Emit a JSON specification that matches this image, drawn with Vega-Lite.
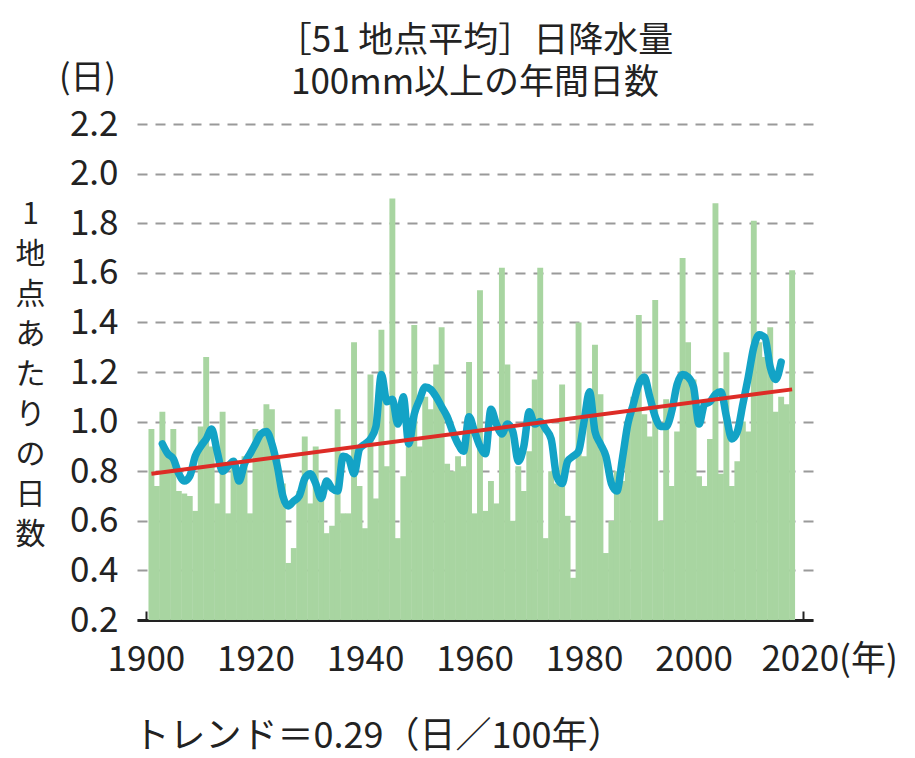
{
  "$schema": "https://vega.github.io/schema/vega-lite/v6.json",
  "width": 676,
  "height": 496,
  "autosize": {"type": "none"},
  "padding": {"left": 137, "top": 124, "right": 102, "bottom": 138},
  "background": "white",
  "config": {"font": "Noto Sans CJK JP", "view": {"stroke": null}},
  "title": {
    "text": ["［51 地点平均］日降水量", "100mm以上の年間日数"],
    "fontSize": 35,
    "fontWeight": "normal",
    "color": "#222222",
    "anchor": "middle",
    "lineHeight": 42,
    "offset": 26,
    "dy": 66
  },
  "datasets": {
    "bars": [
      {"year":1901,"days":0.97},{"year":1902,"days":0.74},{"year":1903,"days":1.04},{"year":1904,"days":0.88},{"year":1905,"days":0.97},
      {"year":1906,"days":0.72},{"year":1907,"days":0.71},{"year":1908,"days":0.70},{"year":1909,"days":0.64},{"year":1910,"days":0.98},
      {"year":1911,"days":1.26},{"year":1912,"days":0.90},{"year":1913,"days":0.67},{"year":1914,"days":1.04},{"year":1915,"days":0.63},
      {"year":1916,"days":0.85},{"year":1917,"days":0.80},{"year":1918,"days":0.86},{"year":1919,"days":0.63},{"year":1920,"days":0.97},
      {"year":1921,"days":0.95},{"year":1922,"days":1.07},{"year":1923,"days":1.05},{"year":1924,"days":0.85},{"year":1925,"days":0.75},
      {"year":1926,"days":0.43},{"year":1927,"days":0.49},{"year":1928,"days":0.72},{"year":1929,"days":0.94},{"year":1930,"days":0.67},
      {"year":1931,"days":0.90},{"year":1932,"days":0.68},{"year":1933,"days":0.55},{"year":1934,"days":0.58},{"year":1935,"days":1.05},
      {"year":1936,"days":0.63},{"year":1937,"days":0.63},{"year":1938,"days":1.32},{"year":1939,"days":0.74},{"year":1940,"days":0.57},
      {"year":1941,"days":1.19},{"year":1942,"days":0.69},{"year":1943,"days":1.37},{"year":1944,"days":0.82},{"year":1945,"days":1.90},
      {"year":1946,"days":0.53},{"year":1947,"days":0.78},{"year":1948,"days":0.90},{"year":1949,"days":1.39},{"year":1950,"days":0.90},
      {"year":1951,"days":1.10},{"year":1952,"days":1.05},{"year":1953,"days":1.23},{"year":1954,"days":1.38},{"year":1955,"days":0.83},
      {"year":1956,"days":0.80},{"year":1957,"days":0.86},{"year":1958,"days":0.82},{"year":1959,"days":1.24},{"year":1960,"days":0.63},
      {"year":1961,"days":1.53},{"year":1962,"days":0.64},{"year":1963,"days":0.76},{"year":1964,"days":0.67},{"year":1965,"days":1.62},
      {"year":1966,"days":1.23},{"year":1967,"days":0.60},{"year":1968,"days":0.82},{"year":1969,"days":0.72},{"year":1970,"days":0.88},
      {"year":1971,"days":1.17},{"year":1972,"days":1.62},{"year":1973,"days":0.53},{"year":1974,"days":0.80},{"year":1975,"days":0.75},
      {"year":1976,"days":1.15},{"year":1977,"days":0.62},{"year":1978,"days":0.37},{"year":1979,"days":1.40},{"year":1980,"days":0.86},
      {"year":1981,"days":1.10},{"year":1982,"days":1.31},{"year":1983,"days":1.11},{"year":1984,"days":0.47},{"year":1985,"days":0.60},
      {"year":1986,"days":0.80},{"year":1987,"days":0.76},{"year":1988,"days":1.00},{"year":1989,"days":1.10},{"year":1990,"days":1.43},
      {"year":1991,"days":1.03},{"year":1992,"days":0.94},{"year":1993,"days":1.49},{"year":1994,"days":0.60},{"year":1995,"days":1.09},
      {"year":1996,"days":0.74},{"year":1997,"days":0.96},{"year":1998,"days":1.66},{"year":1999,"days":1.32},{"year":2000,"days":1.17},
      {"year":2001,"days":0.78},{"year":2002,"days":0.74},{"year":2003,"days":0.93},{"year":2004,"days":1.88},{"year":2005,"days":0.79},
      {"year":2006,"days":1.28},{"year":2007,"days":0.74},{"year":2008,"days":0.84},{"year":2009,"days":1.00},{"year":2010,"days":0.96},
      {"year":2011,"days":1.81},{"year":2012,"days":1.32},{"year":2013,"days":1.26},{"year":2014,"days":1.38},{"year":2015,"days":1.04},
      {"year":2016,"days":1.10},{"year":2017,"days":1.07},{"year":2018,"days":1.61}
    ],
    "ma": [
      {"year":1903,"ma":0.91},{"year":1904,"ma":0.87},{"year":1905,"ma":0.85},{"year":1906,"ma":0.79},{"year":1907,"ma":0.76},
      {"year":1908,"ma":0.78},{"year":1909,"ma":0.86},{"year":1910,"ma":0.90},{"year":1911,"ma":0.93},{"year":1912,"ma":0.97},
      {"year":1913,"ma":0.88},{"year":1914,"ma":0.80},{"year":1915,"ma":0.82},{"year":1916,"ma":0.84},{"year":1917,"ma":0.76},
      {"year":1918,"ma":0.83},{"year":1919,"ma":0.87},{"year":1920,"ma":0.91},{"year":1921,"ma":0.95},{"year":1922,"ma":0.96},
      {"year":1923,"ma":0.91},{"year":1924,"ma":0.82},{"year":1925,"ma":0.70},{"year":1926,"ma":0.66},{"year":1927,"ma":0.68},
      {"year":1928,"ma":0.70},{"year":1929,"ma":0.77},{"year":1930,"ma":0.79},{"year":1931,"ma":0.75},{"year":1932,"ma":0.69},
      {"year":1933,"ma":0.76},{"year":1934,"ma":0.73},{"year":1935,"ma":0.72},{"year":1936,"ma":0.86},{"year":1937,"ma":0.85},
      {"year":1938,"ma":0.79},{"year":1939,"ma":0.89},{"year":1940,"ma":0.91},{"year":1941,"ma":0.93},{"year":1942,"ma":0.98},
      {"year":1943,"ma":1.19},{"year":1944,"ma":1.08},{"year":1945,"ma":1.09},{"year":1946,"ma":0.99},{"year":1947,"ma":1.10},
      {"year":1948,"ma":0.91},{"year":1949,"ma":1.03},{"year":1950,"ma":1.09},{"year":1951,"ma":1.14},{"year":1952,"ma":1.13},
      {"year":1953,"ma":1.10},{"year":1954,"ma":1.06},{"year":1955,"ma":1.02},{"year":1956,"ma":0.96},{"year":1957,"ma":0.91},
      {"year":1958,"ma":0.88},{"year":1959,"ma":1.02},{"year":1960,"ma":0.96},{"year":1961,"ma":0.90},{"year":1962,"ma":0.87},
      {"year":1963,"ma":1.05},{"year":1964,"ma":0.99},{"year":1965,"ma":0.95},{"year":1966,"ma":0.99},{"year":1967,"ma":0.96},
      {"year":1968,"ma":0.84},{"year":1969,"ma":0.90},{"year":1970,"ma":1.04},{"year":1971,"ma":0.99},{"year":1972,"ma":1.00},
      {"year":1973,"ma":0.97},{"year":1974,"ma":0.93},{"year":1975,"ma":0.78},{"year":1976,"ma":0.75},{"year":1977,"ma":0.84},
      {"year":1978,"ma":0.86},{"year":1979,"ma":0.88},{"year":1980,"ma":1.00},{"year":1981,"ma":1.12},{"year":1982,"ma":0.96},
      {"year":1983,"ma":0.91},{"year":1984,"ma":0.86},{"year":1985,"ma":0.75},{"year":1986,"ma":0.72},{"year":1987,"ma":0.85},
      {"year":1988,"ma":0.99},{"year":1989,"ma":1.07},{"year":1990,"ma":1.15},{"year":1991,"ma":1.18},{"year":1992,"ma":1.10},
      {"year":1993,"ma":1.02},{"year":1994,"ma":0.98},{"year":1995,"ma":0.98},{"year":1996,"ma":1.04},{"year":1997,"ma":1.15},
      {"year":1998,"ma":1.19},{"year":1999,"ma":1.18},{"year":2000,"ma":1.14},{"year":2001,"ma":0.99},{"year":2002,"ma":1.07},
      {"year":2003,"ma":1.08},{"year":2004,"ma":1.11},{"year":2005,"ma":1.12},{"year":2006,"ma":1.02},{"year":2007,"ma":0.93},
      {"year":2008,"ma":0.96},{"year":2009,"ma":1.07},{"year":2010,"ma":1.18},{"year":2011,"ma":1.30},{"year":2012,"ma":1.35},
      {"year":2013,"ma":1.34},{"year":2014,"ma":1.22},{"year":2015,"ma":1.17},{"year":2016,"ma":1.24}
    ],
    "trend": [
      {"year":1901,"trend":0.79},{"year":2018,"trend":1.13}
    ]
  },
  "encoding": {
    "x": {
      "field": "year",
      "type": "quantitative",
      "scale": {"domain": [1899.28, 2020.9], "nice": false, "zero": false},
      "axis": {
        "values": [1900, 1920, 1940, 1960, 1980, 2000, 2020],
        "format": "d",
        "labelExpr": "datum.value == 2020 ? '2020(年)' : datum.label",
        "labelOffset": {"condition": {"test": "datum.value == 2020", "value": 26}, "value": 0},
        "labelFontSize": 35,
        "labelColor": "#222222",
        "labelPadding": 31,
        "labelFlush": false,
        "labelOverlap": false,
        "ticks": true,
        "tickSize": -9,
        "tickWidth": 2,
        "tickColor": "#222222",
        "grid": false,
        "domainWidth": 3,
        "domainColor": "#222222",
        "title": "トレンド＝0.29（日／100年）",
        "titleFontSize": 36,
        "titleFontWeight": "normal",
        "titleColor": "#222222",
        "titleAnchor": "start",
        "titleAlign": "left",
        "titleBaseline": "middle",
        "titleX": -4,
        "titleY": 116
      }
    }
  },
  "layer": [
    {
      "data": {"name": "bars"},
      "mark": {"type": "bar", "color": "#a8d5a1", "size": 5.9},
      "encoding": {
        "y": {
          "field": "days",
          "type": "quantitative",
          "scale": {"domain": [0.2, 2.2], "nice": false, "zero": false},
          "axis": {
            "values": [0.2, 0.4, 0.6, 0.8, 1.0, 1.2, 1.4, 1.6, 1.8, 2.0, 2.2],
            "format": ".1f",
            "labelFontSize": 35,
            "labelColor": "#222222",
            "labelPadding": 19,
            "ticks": false,
            "domain": false,
            "grid": true,
            "gridDash": [10, 8],
            "gridColor": "#9a9a9a",
            "gridWidth": 2,
            "title": "(日)",
            "titleAngle": 0,
            "titleX": -50,
            "titleY": -46,
            "titleAlign": "center",
            "titleBaseline": "middle",
            "titleFontSize": 34,
            "titleFontWeight": "normal",
            "titleColor": "#222222"
          }
        },
        "y2": {"datum": 0.2}
      }
    },
    {
      "data": {"name": "ma"},
      "mark": {"type": "line", "color": "#13a3c6", "strokeWidth": 7.5, "interpolate": "monotone", "strokeCap": "round", "strokeJoin": "round"},
      "encoding": {
        "y": {"field": "ma", "type": "quantitative", "axis": null}
      }
    },
    {
      "data": {"name": "trend"},
      "mark": {"type": "line", "color": "#dd2c26", "strokeWidth": 4},
      "encoding": {
        "y": {
          "field": "trend",
          "type": "quantitative",
          "axis": {
            "orient": "right",
            "labels": false,
            "ticks": false,
            "domain": false,
            "grid": false,
            "title": ["1", "地", "点", "あ", "た", "り", "の", "日", "数"],
            "titleAngle": 0,
            "titleX": -783,
            "titleY": 75,
            "titleAlign": "center",
            "titleBaseline": "top",
            "titleFontSize": 30,
            "titleLineHeight": 40,
            "titleFontWeight": "normal",
            "titleColor": "#222222"
          }
        }
      }
    }
  ],
  "resolve": {"axis": {"y": "independent"}}
}
